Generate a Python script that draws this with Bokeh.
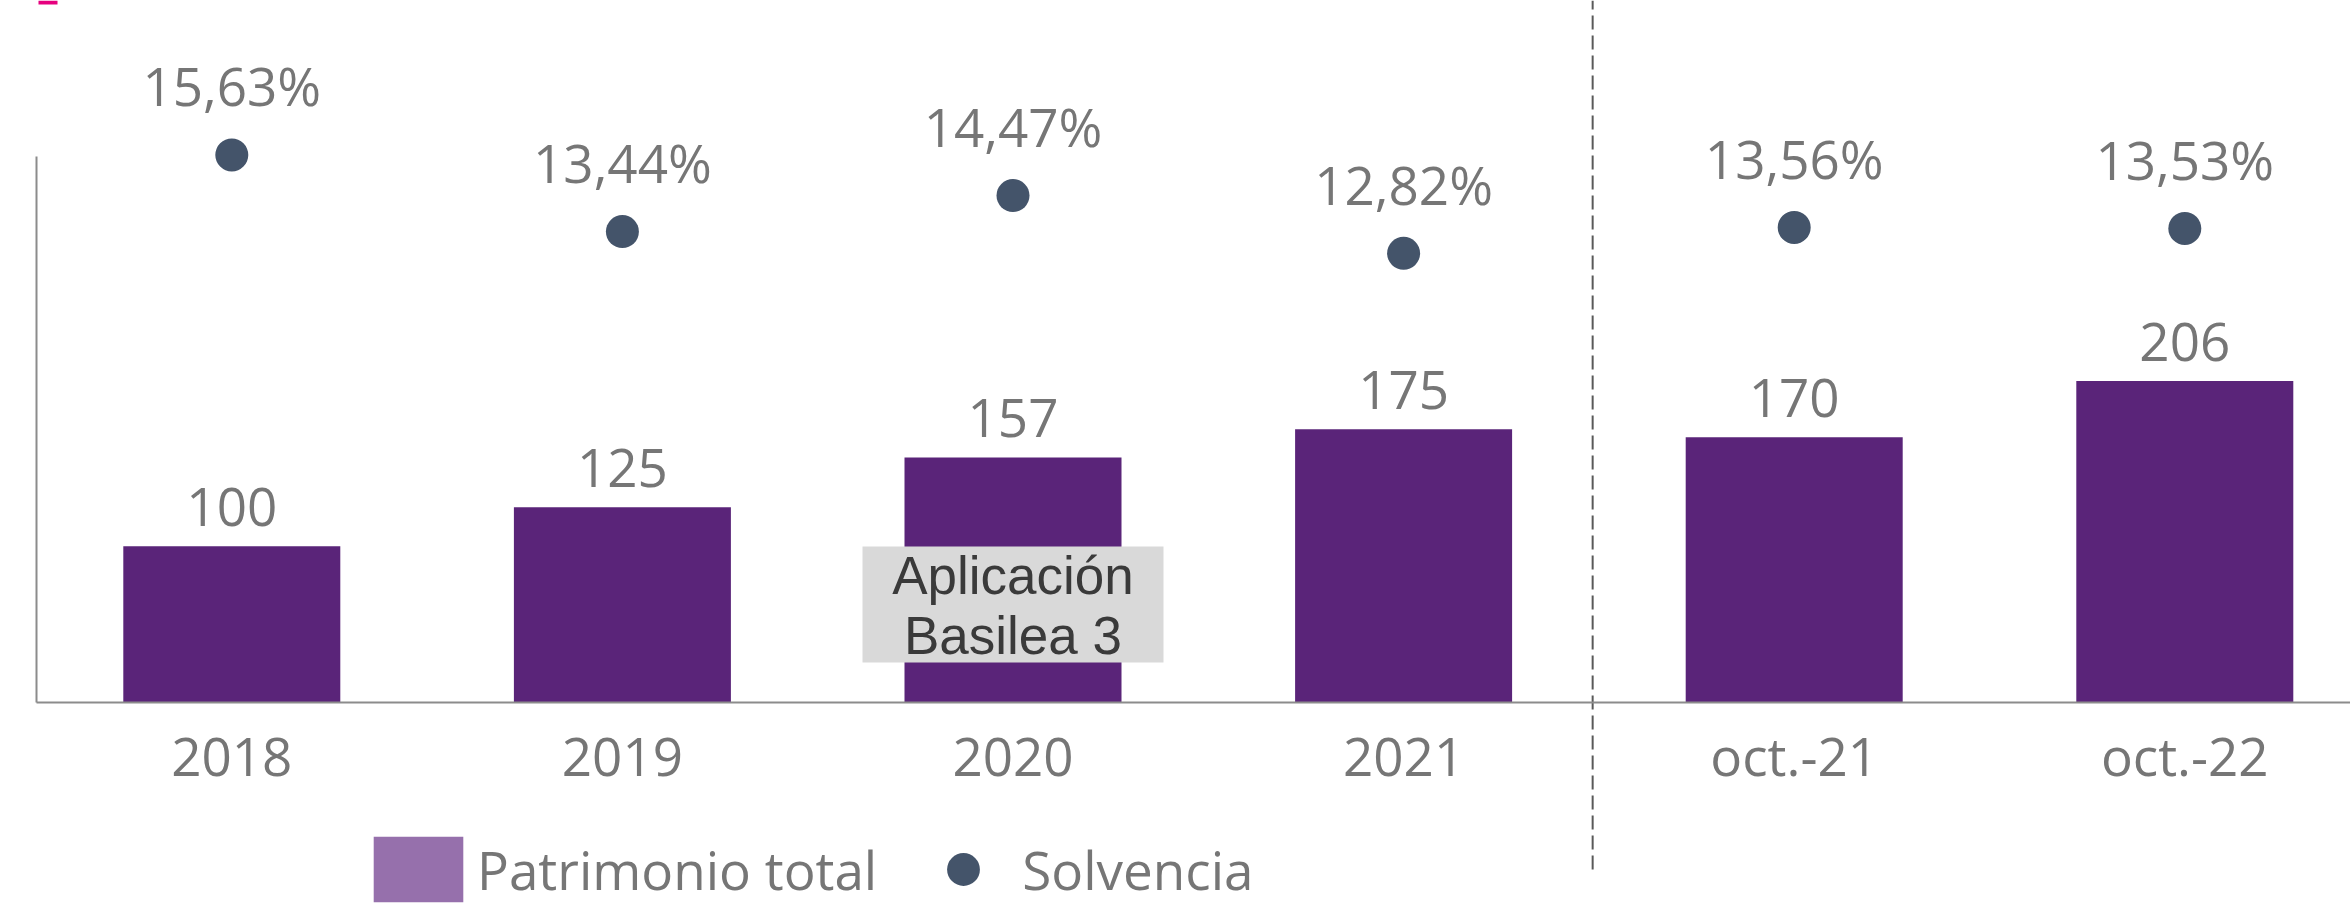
from bokeh.plotting import figure
from bokeh.models import (Range1d, FixedTicker, Legend, LegendItem,
                          ColumnDataSource, BoxAnnotation, Label)
from bokeh.core.properties import value
from bokeh.embed import file_html
from bokeh.resources import INLINE

# ---------------- data ----------------
categories = ["2018", "2019", "2020", "2021", "oct.-21", "oct.-22"]
patrimonio = [100, 125, 157, 175, 170, 206]
solvencia = [15.63, 13.44, 14.47, 12.82, 13.56, 13.53]
patrimonio_labels = ["100", "125", "157", "175", "170", "206"]
solvencia_labels = ["15,63%", "13,44%", "14,47%", "12,82%", "13,56%", "13,53%"]
annotation_lines = ["Aplicación", "Basilea 3"]
legend_labels = ["Patrimonio total", "Solvencia"]

# ---------------- layout / style ----------------
W, H = 2350, 905
ORIGIN_X = 36.0      # px of the vertical axis
BASE_Y = 701.5       # px (from top) of the baseline
PX_PER_CAT = 390.6
PX_PER_UNIT = 1.558
PX_PER_PCT = 35.0
AXIS_TOP = 350
DIVIDER_POS = 3.984
DIVIDER_BOTTOM_PX = 869.0


def dx(px):
    return (px - ORIGIN_X) / PX_PER_CAT


def dy(py):
    return (BASE_Y - py) / PX_PER_UNIT


FONT = "Open Sans"
FONT_SIZE = "53px"
TEXT_GRAY = "#767676"
AXIS_GRAY = "#8C8C8C"
BAR_COLOR = "#5A2479"
LEGEND_BAR_COLOR = "#9670AC"
DOT_COLOR = "#44546A"

xpos = [i + 0.5 for i in range(len(categories))]
src = ColumnDataSource(dict(x=xpos, pat=patrimonio, sol=solvencia,
                            plab=patrimonio_labels, slab=solvencia_labels))

x_range = Range1d(dx(0), dx(W))
y_range = Range1d(dy(H), dy(0))

p = figure(width=W, height=H, x_range=x_range, y_range=y_range,
           output_backend="svg", toolbar_location=None, min_border=0,
           background_fill_color="white", border_fill_color="white")
p.extra_y_ranges = {"pct": Range1d(-(H - BASE_Y) / PX_PER_PCT, BASE_Y / PX_PER_PCT)}
p.outline_line_color = None
p.grid.visible = False

# axes drawn at the origin inside the frame
xa = p.xaxis[0]
xa.fixed_location = 0
xa.bounds = (0, x_range.end)
xa.ticker = FixedTicker(ticks=xpos)
xa.major_label_overrides = {x: c for x, c in zip(xpos, categories)}
xa.major_tick_in = 0
xa.major_tick_out = 0
xa.minor_tick_line_color = None
xa.major_label_standoff = 17
xa.major_label_text_font = FONT
xa.major_label_text_font_size = FONT_SIZE
xa.major_label_text_color = TEXT_GRAY
xa.axis_line_color = AXIS_GRAY
xa.axis_line_width = 2

ya = p.yaxis[0]
ya.fixed_location = 0
ya.bounds = (0, AXIS_TOP)
ya.ticker = FixedTicker(ticks=[])
ya.major_tick_line_color = None
ya.minor_tick_line_color = None
ya.major_label_text_font_size = "0px"
ya.axis_line_color = AXIS_GRAY
ya.axis_line_width = 2

# bars
p.vbar(x="x", top="pat", width=217 / PX_PER_CAT, source=src,
       fill_color=BAR_COLOR, line_color=None)

# value labels
p.text(x="x", y="pat", text="plab", source=src, text_align="center",
       text_baseline="alphabetic", y_offset=-39,
       text_font=value(FONT), text_font_size=FONT_SIZE, text_color=TEXT_GRAY)

# solvency dots
dots = p.scatter(x="x", y="sol", source=src, y_range_name="pct", size=33,
                 fill_color=DOT_COLOR, line_color=None)
p.text(x="x", y="sol", text="slab", source=src, y_range_name="pct",
       text_align="center", text_baseline="alphabetic", y_offset=-69,
       text_font=value(FONT), text_font_size=FONT_SIZE, text_color=TEXT_GRAY)

# divider
p.segment(x0=[DIVIDER_POS], x1=[DIVIDER_POS],
          y0=[dy(DIVIDER_BOTTOM_PX)], y1=[y_range.end],
          line_color="#595959", line_width=2, line_dash="14 6")

# small accent mark at the top-left corner
p.add_layout(BoxAnnotation(left=dx(38), right=dx(57), top=dy(0), bottom=dy(4),
                           fill_color="#E6007E", fill_alpha=1, line_color=None))

# annotation box
box_center = xpos[2]
half_w = 150.5 / PX_PER_CAT
p.add_layout(BoxAnnotation(left=box_center - half_w, right=box_center + half_w,
                           top=dy(546), bottom=dy(662),
                           fill_color="#D9D9D9", fill_alpha=1, line_color=None))
for line, ypx in zip(annotation_lines, [575, 635]):
    p.add_layout(Label(x=box_center, y=dy(ypx), text=line,
                       text_align="center", text_baseline="middle",
                       text_font="Liberation Sans", text_font_size="53px",
                       text_color="#3A3A3A"))

# legend (key square is drawn at 80% of the glyph box)
legend_src = ColumnDataSource(dict(x=[float("nan")], top=[float("nan")]))
legend_bar = p.vbar(x="x", top="top", width=0.5, source=legend_src,
                    fill_color=LEGEND_BAR_COLOR, line_color=None)
legend = Legend(items=[LegendItem(label=legend_labels[0], renderers=[legend_bar]),
                       LegendItem(label=legend_labels[1], renderers=[dots])],
                orientation="horizontal", location=(362, -5),
                glyph_width=112, glyph_height=82, label_standoff=3, spacing=30,
                padding=0, margin=0, border_line_color=None,
                background_fill_alpha=0,
                label_text_font=FONT, label_text_font_size=FONT_SIZE,
                label_text_color=TEXT_GRAY)
p.add_layout(legend)

open("out.html", "w").write(file_html(p, INLINE))
